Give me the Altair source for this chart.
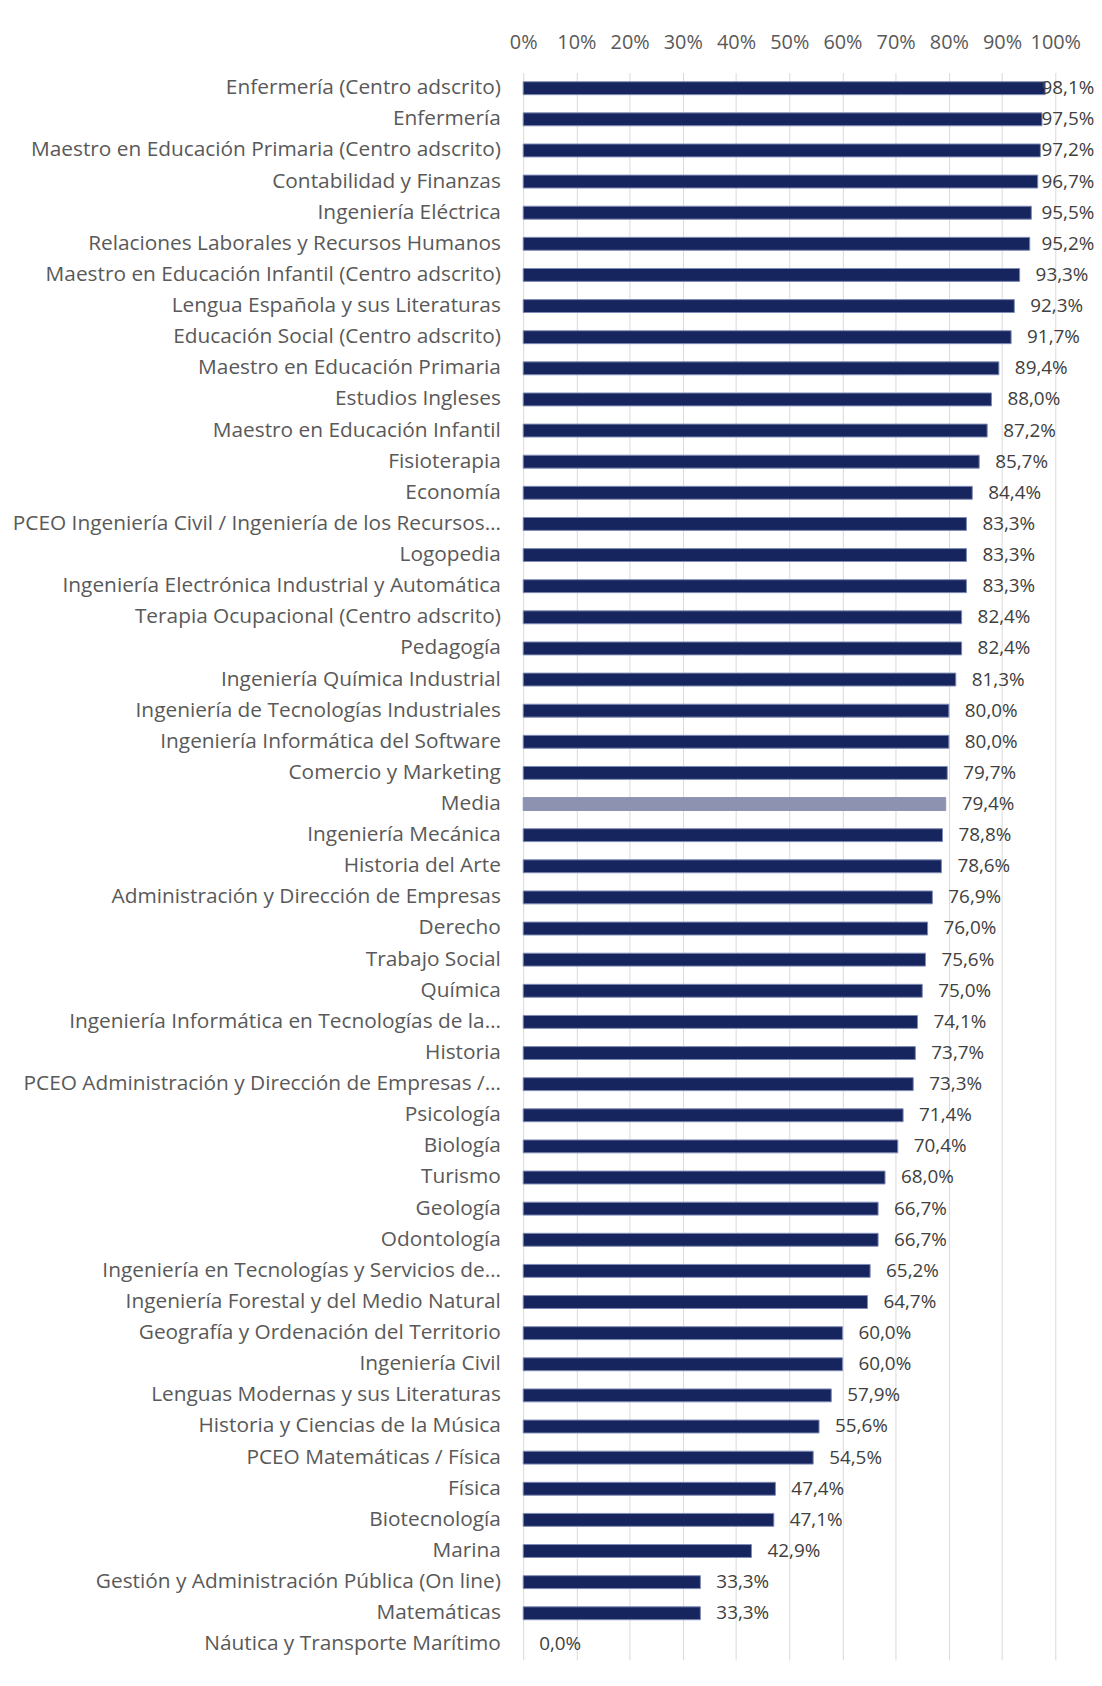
import altair as alt
import pandas as pd

grados = [
    "Enfermería (Centro adscrito)",
    "Enfermería",
    "Maestro en Educación Primaria (Centro adscrito)",
    "Contabilidad y Finanzas",
    "Ingeniería Eléctrica",
    "Relaciones Laborales y Recursos Humanos",
    "Maestro en Educación Infantil (Centro adscrito)",
    "Lengua Española y sus Literaturas",
    "Educación Social (Centro adscrito)",
    "Maestro en Educación Primaria",
    "Estudios Ingleses",
    "Maestro en Educación Infantil",
    "Fisioterapia",
    "Economía",
    "PCEO Ingeniería Civil / Ingeniería de los Recursos…",
    "Logopedia",
    "Ingeniería Electrónica Industrial y Automática",
    "Terapia Ocupacional (Centro adscrito)",
    "Pedagogía",
    "Ingeniería Química Industrial",
    "Ingeniería de Tecnologías Industriales",
    "Ingeniería Informática del Software",
    "Comercio y Marketing",
    "Media",
    "Ingeniería Mecánica",
    "Historia del Arte",
    "Administración y Dirección de Empresas",
    "Derecho",
    "Trabajo Social",
    "Química",
    "Ingeniería Informática en Tecnologías de la…",
    "Historia",
    "PCEO Administración y Dirección de Empresas /…",
    "Psicología",
    "Biología",
    "Turismo",
    "Geología",
    "Odontología",
    "Ingeniería en Tecnologías y Servicios de…",
    "Ingeniería Forestal y del Medio Natural",
    "Geografía y Ordenación del Territorio",
    "Ingeniería Civil",
    "Lenguas Modernas y sus Literaturas",
    "Historia y Ciencias de la Música",
    "PCEO Matemáticas / Física",
    "Física",
    "Biotecnología",
    "Marina",
    "Gestión y Administración Pública (On line)",
    "Matemáticas",
    "Náutica y Transporte Marítimo",
]

valores = [
    98.1, 97.5, 97.2, 96.7, 95.5, 95.2, 93.3, 92.3, 91.7, 89.4,
    88.0, 87.2, 85.7, 84.4, 83.3, 83.3, 83.3, 82.4, 82.4, 81.3,
    80.0, 80.0, 79.7, 79.4, 78.8, 78.6, 76.9, 76.0, 75.6, 75.0,
    74.1, 73.7, 73.3, 71.4, 70.4, 68.0, 66.7, 66.7, 65.2, 64.7,
    60.0, 60.0, 57.9, 55.6, 54.5, 47.4, 47.1, 42.9, 33.3, 33.3,
    0.0,
]

ticks = [0, 10, 20, 30, 40, 50, 60, 70, 80, 90, 100]

df = pd.DataFrame({"grado": grados, "valor": valores})

FONT = "Open Sans"
NAVY = "#17255e"
MEDIA = "#8c92b0"

x_scale = alt.Scale(domain=[0, 100], nice=False, zero=True)
y_enc = alt.Y(
    "grado:N",
    sort=grados,
    title=None,
    scale=alt.Scale(paddingInner=0, paddingOuter=0),
    axis=alt.Axis(
        labelFont=FONT,
        labelFontSize=21,
        labelColor="#595959",
        labelLimit=600,
        labelPadding=23,
        ticks=False,
        domain=False,
        grid=False,
    ),
)

bars = (
    alt.Chart(df)
    .mark_bar(size=13, strokeWidth=1)
    .encode(
        x=alt.X(
            "valor:Q",
            scale=x_scale,
            title=None,
            axis=alt.Axis(
                orient="top",
                values=ticks,
                labelExpr="datum.value + '%'",
                labelFont=FONT,
                labelFontSize=20,
                labelColor="#595959",
                labelPadding=20,
                labelOverlap=False,
                labelBound=False,
                labelFlush=False,
                ticks=False,
                domain=False,
                grid=True,
                gridColor="#d9d9d9",
                gridWidth=1,
            ),
        ),
        y=y_enc,
        color=alt.condition(
            alt.datum.grado == "Media", alt.value(MEDIA), alt.value(NAVY)
        ),
        stroke=alt.condition(
            alt.datum.grado == "Media", alt.value(MEDIA), alt.value("#7f8bb5")
        ),
        strokeOpacity=alt.condition(
            alt.datum.valor > 0, alt.value(1), alt.value(0)
        ),
    )
)

labels = (
    alt.Chart(df)
    .transform_calculate(
        pos="min(datum.valor + 3, 97.4)",
        txt="replace(format(datum.valor, '.1f'), '.', ',') + '%'",
    )
    .mark_text(align="left", baseline="middle", font=FONT, fontSize=19, color="#404040")
    .encode(
        x=alt.X("pos:Q", scale=x_scale),
        y=alt.Y("grado:N", sort=grados),
        text="txt:N",
    )
)

chart = (
    alt.layer(bars, labels)
    .properties(
        width=536,
        height=1599,
        autosize=alt.AutoSizeParams(type="none"),
        padding={"left": 519, "top": 59, "right": 39, "bottom": 2},
        background="white",
    )
    .configure_view(stroke=None)
)

chart.save("out.html", embed_options={"renderer": "svg", "actions": False})
